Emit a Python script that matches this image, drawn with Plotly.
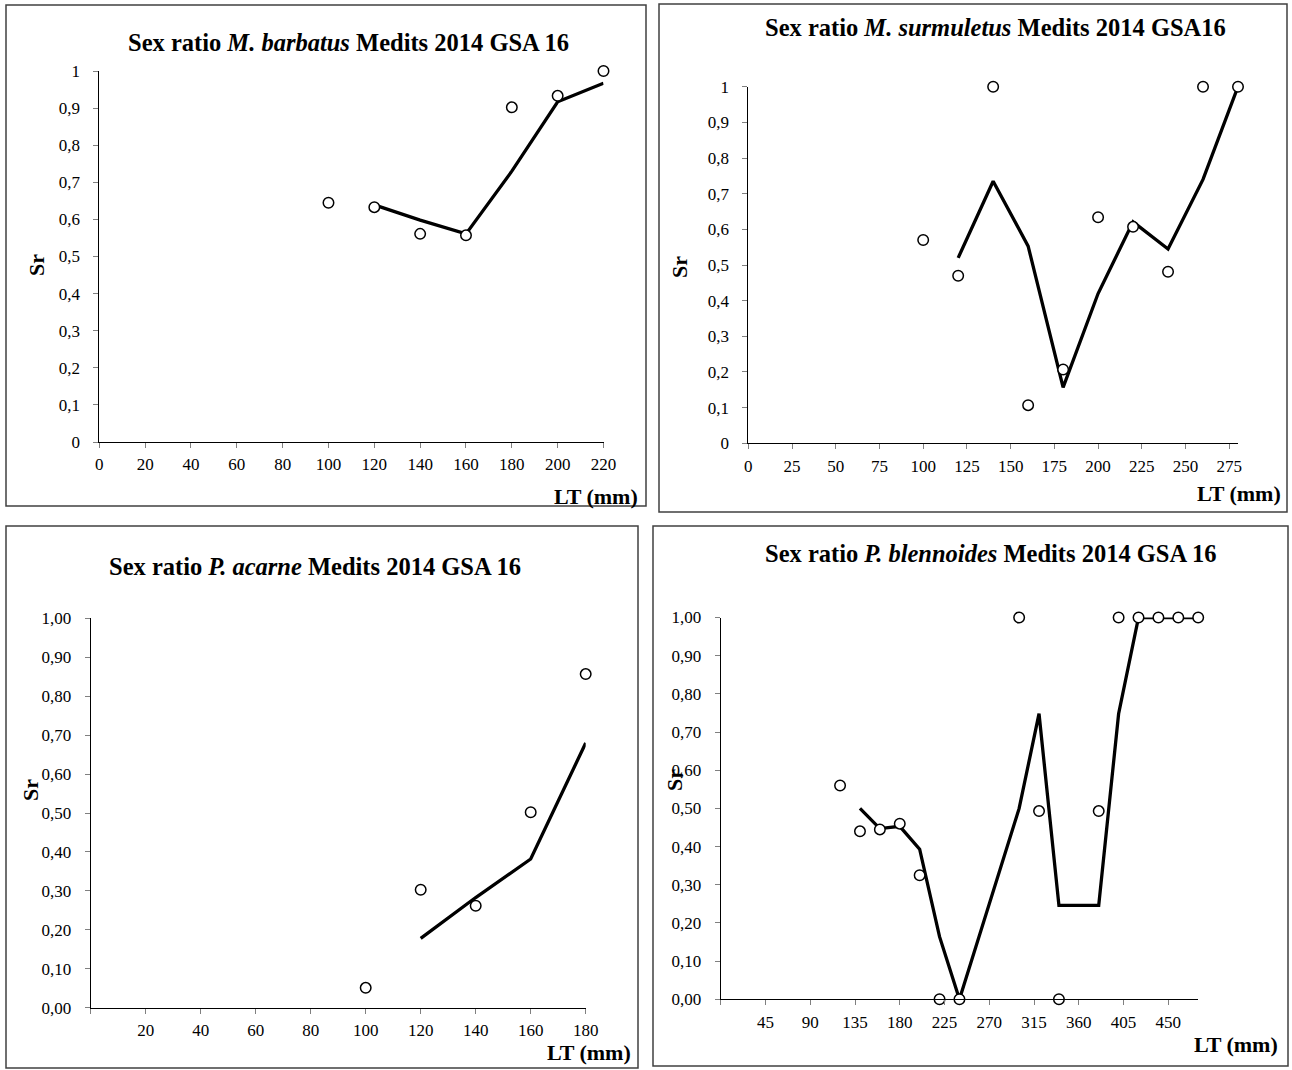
import plotly.graph_objects as go

W, H = 1292, 1070

# ---------------- data ----------------
# M. barbatus
mb_lt = [100, 120, 140, 160, 180, 200, 220]
mb_sr = [0.645, 0.633, 0.561, 0.557, 0.902, 0.933, 1.0]
mb_trend_lt = [120, 140, 160, 180, 200, 220]
mb_trend = [0.639, 0.598, 0.561, 0.730, 0.917, 0.967]

# M. surmuletus
ms_lt = [100, 120, 140, 160, 180, 200, 220, 240, 260, 280]
ms_sr = [0.570, 0.470, 1.0, 0.107, 0.207, 0.634, 0.607, 0.481, 1.0, 1.0]
ms_trend_lt = [120, 140, 160, 180, 200, 220, 240, 260, 280]
ms_trend = [0.520, 0.735, 0.553, 0.157, 0.420, 0.621, 0.545, 0.740, 1.0]

# P. acarne
pa_lt = [100, 120, 140, 160, 180]
pa_sr = [0.051, 0.303, 0.262, 0.502, 0.857]
pa_trend_lt = [120, 140, 160, 180]
pa_trend = [0.178, 0.283, 0.382, 0.680]

# P. blennoides
pb_lt = [120, 140, 160, 180, 200, 220, 240, 300, 320, 340, 380, 400, 420, 440, 460, 480]
pb_sr = [0.560, 0.440, 0.445, 0.460, 0.325, 0.0, 0.0, 1.0, 0.493, 0.0, 0.493, 1.0, 1.0, 1.0, 1.0, 1.0]
pb_trend_lt = [140, 160, 180, 200, 220, 240, 300, 320, 340, 380, 400, 420, 440, 460, 480]
pb_trend = [0.500, 0.447, 0.453, 0.393, 0.164, 0.0, 0.500, 0.748, 0.246, 0.246, 0.748, 1.0, 1.0, 1.0, 1.0]

# tick labels
y_vals = [0, 0.1, 0.2, 0.3, 0.4, 0.5, 0.6, 0.7, 0.8, 0.9, 1.0]
y_text_short = ["0", "0,1", "0,2", "0,3", "0,4", "0,5", "0,6", "0,7", "0,8", "0,9", "1"]
y_text_long = ["0,00", "0,10", "0,20", "0,30", "0,40", "0,50", "0,60", "0,70", "0,80", "0,90", "1,00"]
x1_vals = [0, 20, 40, 60, 80, 100, 120, 140, 160, 180, 200, 220]
x1_text = ["0", "20", "40", "60", "80", "100", "120", "140", "160", "180", "200", "220"]
x2_vals = [0, 25, 50, 75, 100, 125, 150, 175, 200, 225, 250, 275]
x2_text = ["0", "25", "50", "75", "100", "125", "150", "175", "200", "225", "250", "275"]
x3_vals = [0, 20, 40, 60, 80, 100, 120, 140, 160, 180]
x3_text = ["", "20", "40", "60", "80", "100", "120", "140", "160", "180"]
x4_vals = [0, 45, 90, 135, 180, 225, 270, 315, 360, 405, 450]
x4_text = ["", "45", "90", "135", "180", "225", "270", "315", "360", "405", "450"]

titles = [
    "<b>Sex ratio <i>M. barbatus</i> Medits 2014 GSA 16</b>",
    "<b>Sex ratio <i>M. surmuletus</i> Medits 2014 GSA16</b>",
    "<b>Sex ratio <i>P. acarne</i> Medits 2014 GSA 16</b>",
    "<b>Sex ratio <i>P. blennoides</i> Medits 2014 GSA 16</b>",
]

FONT = "Liberation Serif, Times New Roman, serif"


def px_x(v):
    return v / W


def px_y(v):
    return 1 - v / H


panels = [
    dict(px=(99.3, 603.5), py=(71, 442), xr=[0, 220], xv=x1_vals, xt=x1_text, yt=y_text_short,
         frame=(6, 5, 646, 506), title=(348, 42), lt=(640, 496), sr=(37, 265)),
    dict(px=(748.3, 1238), py=(86.7, 443.3), xr=[0, 280], xv=x2_vals, xt=x2_text, yt=y_text_short,
         frame=(659, 4, 1287, 512), title=(995, 28), lt=(1283, 493), sr=(679, 267)),
    dict(px=(90.7, 585.7), py=(618.4, 1007.7), xr=[0, 180], xv=x3_vals, xt=x3_text, yt=y_text_long,
         frame=(6, 526, 638, 1068), title=(315, 566), lt=(633, 1052), sr=(30, 790)),
    dict(px=(720.7, 1198.2), py=(617.5, 999.3), xr=[0, 480], xv=x4_vals, xt=x4_text, yt=y_text_long,
         frame=(653, 526, 1288, 1066), title=(990, 553), lt=(1280, 1044), sr=(674, 780)),
]

series = [
    (mb_lt, mb_sr, mb_trend_lt, mb_trend),
    (ms_lt, ms_sr, ms_trend_lt, ms_trend),
    (pa_lt, pa_sr, pa_trend_lt, pa_trend),
    (pb_lt, pb_sr, pb_trend_lt, pb_trend),
]

fig = go.Figure()
layout = dict(
    template="none",
    width=W, height=H, autosize=False, margin=dict(l=0, r=0, t=0, b=0, pad=0),
    paper_bgcolor="white", plot_bgcolor="white", showlegend=False,
    font=dict(family=FONT, size=17, color="black"),
)
shapes = []
annotations = []

for i, (p, s) in enumerate(zip(panels, series), start=1):
    xa = "x" if i == 1 else f"x{i}"
    ya = "y" if i == 1 else f"y{i}"
    lt, sr, tlt, tsr = s
    fig.add_trace(go.Scatter(x=tlt, y=tsr, mode="lines", xaxis=xa, yaxis=ya,
                             line=dict(color="black", width=3.3), cliponaxis=False))
    fig.add_trace(go.Scatter(x=lt, y=sr, mode="markers", xaxis=xa, yaxis=ya, cliponaxis=False,
                             marker=dict(symbol="circle", size=10.5, color="white",
                                         line=dict(color="black", width=1.5))))
    xd = [px_x(p["px"][0]), px_x(p["px"][1])]
    yd = [px_y(p["py"][1]), px_y(p["py"][0])]
    layout["xaxis" if i == 1 else f"xaxis{i}"] = dict(
        domain=xd, anchor=ya, range=p["xr"], showgrid=False, zeroline=False, automargin=False,
        showline=True, linecolor="black", linewidth=1,
        ticks="outside", ticklen=5, tickcolor="#808080", tickwidth=1,
        tickmode="array", tickvals=p["xv"], ticktext=p["xt"],
        tickfont=dict(family=FONT, size=17, color="black"), ticklabelstandoff=2,
    )
    layout["yaxis" if i == 1 else f"yaxis{i}"] = dict(
        domain=yd, anchor=xa, range=[0, 1], showgrid=False, zeroline=False, automargin=False,
        showline=True, linecolor="black", linewidth=1,
        ticks="outside", ticklen=5, tickcolor="#808080", tickwidth=1,
        tickmode="array", tickvals=y_vals, ticktext=p["yt"],
        tickfont=dict(family=FONT, size=17, color="black"), ticklabelstandoff=10,
    )
    fx0, fy0, fx1, fy1 = p["frame"]
    shapes.append(dict(type="rect", xref="paper", yref="paper",
                       x0=px_x(fx0), x1=px_x(fx1), y0=px_y(fy1), y1=px_y(fy0),
                       line=dict(color="#404040", width=1.5), fillcolor="rgba(0,0,0,0)", layer="below"))
    annotations.append(dict(text=titles[i - 1], xref="paper", yref="paper",
                            x=px_x(p["title"][0]), y=px_y(p["title"][1]),
                            xanchor="center", yanchor="middle", showarrow=False,
                            font=dict(family=FONT, size=24.5, color="black")))
    annotations.append(dict(text="<b>LT (mm)</b>", xref="paper", yref="paper",
                            x=px_x(p["lt"][0]), y=px_y(p["lt"][1]),
                            xanchor="right", yanchor="middle", showarrow=False,
                            font=dict(family=FONT, size=22, color="black")))
    annotations.append(dict(text="<b>Sr</b>", xref="paper", yref="paper",
                            x=px_x(p["sr"][0]), y=px_y(p["sr"][1]), textangle=-90,
                            xanchor="center", yanchor="middle", showarrow=False,
                            font=dict(family=FONT, size=22, color="black")))

layout["shapes"] = shapes
layout["annotations"] = annotations
fig.update_layout(**layout)

fig.write_html("out.html", config={"displayModeBar": False, "responsive": False},
               post_script="document.body.style.margin='0';document.documentElement.style.overflow='hidden';")
